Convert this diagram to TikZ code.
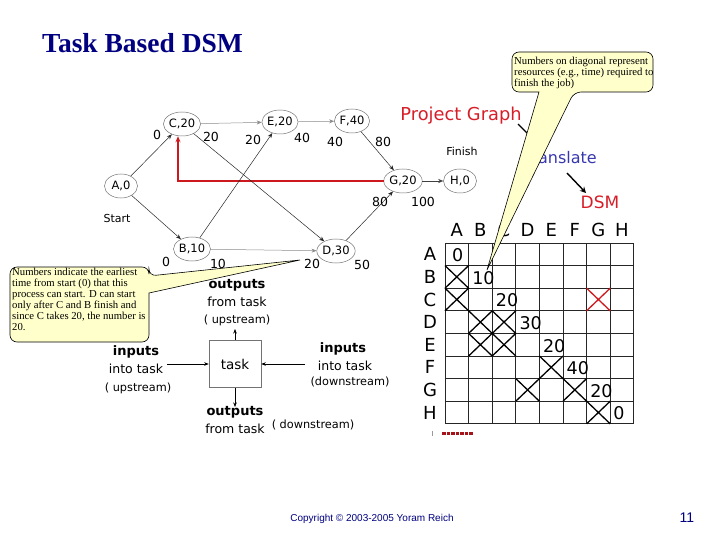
\documentclass[tikz,border=0pt]{standalone}
\usepackage{fontspec}
\setmainfont{Liberation Serif}
\newfontfamily\vfont{DejaVu Sans}
\newfontfamily\afont{Liberation Sans}
\usetikzlibrary{shapes.geometric,arrows.meta}
\definecolor{navy}{RGB}{0,0,128}
\definecolor{pgred}{RGB}{215,30,40}
\definecolor{trblue}{RGB}{55,55,175}
\definecolor{lnred}{RGB}{205,25,30}
\definecolor{calloutfill}{RGB}{255,255,204}
\begin{document}
\begin{tikzpicture}[x=1pt,y=-1pt,
  gnode/.style={ellipse, draw=black!55, line width=0.5pt, minimum width=33, minimum height=24, inner sep=0pt, font=\vfont\fontsize{11.5}{13}\selectfont},
  elbl/.style={font=\vfont\fontsize{12.5}{14}\selectfont, inner sep=0pt},
  garrow/.style={-{Stealth[length=5pt,width=4pt]}, line width=0.5pt},
  tarrow/.style={-{Stealth[length=4.5pt,width=3.5pt]}, line width=0.5pt},
  bigarrow/.style={-{Stealth[length=6pt,width=6pt]}, line width=1.4pt},
  gridline/.style={line width=0.8pt, black!85},
  xmark/.style={line width=1.3pt, black},
  dsmlbl/.style={font=\vfont\fontsize{18}{20}\selectfont, inner sep=0pt},
  dsmnum/.style={font=\vfont\fontsize{17.5}{20}\selectfont, inner sep=0pt, anchor=west},
  callout/.style={draw=black, line width=0.6pt, fill=calloutfill},
  callouttext/.style={font=\fontsize{10.7}{11}\selectfont, inner sep=0pt, anchor=north west, align=left},
  tbold/.style={font=\vfont\bfseries\fontsize{13}{15}\selectfont, inner sep=0pt},
  tnorm/.style={font=\vfont\fontsize{12.5}{15}\selectfont, inner sep=0pt},
  tsmall/.style={font=\vfont\fontsize{11.3}{13}\selectfont, inner sep=0pt}
]
\useasboundingbox (0,0) rectangle (720,540);

% Title
\node[anchor=base west, font=\bfseries\fontsize{27.5}{30}\selectfont, text=navy, inner sep=0pt] (title) at (42,53) {Task Based DSM};

% Project graph nodes
\node[gnode] (A) at (121,186) {A,0};
\node[gnode] (C) at (182,124) {C,20};
\node[gnode] (E) at (280,122) {E,20};
\node[gnode] (F) at (352,121) {F,40};
\node[gnode] (B) at (192,249) {B,10};
\node[gnode] (D) at (336,251) {D,30};
\node[gnode] (G) at (403,181) {G,20};
\node[gnode] (H) at (460,181) {H,0};

% red feedback
\coordinate (rc) at (178,180);
\draw[lnred, line width=1.6pt, -{Stealth[length=6pt,width=5pt]}] (G.west) -- (G.west -| rc) -- (rc |- C.south);

% edges
\draw[garrow, black!85] (A) -- (C);
\draw[garrow, black!85] (A) -- (B);
\draw[garrow, black!45] (C) -- (E);
\draw[garrow, black!85] (C) -- (D);
\draw[garrow, black!85] (B) -- (E);
\draw[garrow, black!45] (B) -- (D);
\draw[garrow, black!45] (E) -- (F);
\draw[garrow, black!85] (F) -- (G);
\draw[garrow, black!85] (D) -- (G);
\draw[garrow, black!75] (G) -- (H);

% edge labels
\node[elbl] (l1) at (157,135) {0};
\node[elbl] (l2) at (211,137) {20};
\node[elbl] (l3) at (253,140) {20};
\node[elbl] (l4) at (302,138) {40};
\node[elbl] (l5) at (335,142) {40};
\node[elbl] (l6) at (383,142) {80};
\node[elbl] (l7) at (380,202) {80};
\node[elbl] (l8) at (423,202) {100};
\node[elbl] (l9) at (166,262) {0};
\node[elbl] (l10) at (218,264) {10};
\node[elbl] (l11) at (312,264) {20};
\node[elbl] (l12) at (362,265) {50};
\node[font=\vfont\fontsize{11}{13}\selectfont, inner sep=0pt] (start) at (117,218) {Start};
\node[font=\vfont\fontsize{11}{13}\selectfont, inner sep=0pt] (finish) at (462,151) {Finish};

% Project graph / translate / DSM
\node[font=\vfont\fontsize{17.8}{20}\selectfont, text=pgred, inner sep=0pt] (pg) at (461,116) {Project Graph};
\node[font=\vfont\fontsize{16}{18}\selectfont, text=trblue, inner sep=0pt, anchor=east] (tr) at (597,158) {Translate};
\node[font=\vfont\fontsize{17}{18}\selectfont, text=pgred, inner sep=0pt] (dsm) at (600,202) {DSM};
\coordinate (pa1) at (518,124);
\coordinate (pa2) at (542,148);
\draw[bigarrow] (pa1) -- (pa2);
\coordinate (ta1) at (567,173);
\coordinate (ta2) at (586,193);
\draw[bigarrow] (ta1) -- (ta2);

% DSM grid
\foreach \i in {0,...,8} {
  \draw[gridline] (445,{243+22.6*\i}) -- (634,{243+22.6*\i});
  \draw[gridline] ({445+23.6*\i},243) -- ({445+23.6*\i},423.8);
}
\foreach \l [count=\k from 0] in {A,B,C,D,E,F,G,H} {
  \node[dsmlbl] (col\l) at ({456.8+23.6*\k},230) {\l};
  \node[dsmlbl] (row\l) at (430,{254.3+22.6*\k}) {\l};
}
\foreach \r/\c in {1/0,2/0,3/1,3/2,4/1,4/2,5/4,6/3,6/5,7/6} {
  \draw[xmark] ({445+23.6*\c},{243+22.6*\r}) -- ++(23.6,22.6)
               ({445+23.6*\c},{243+22.6*(\r+1)}) -- ++(23.6,-22.6);
}
\draw[xmark, lnred] ({445+23.6*6},{243+22.6*2}) -- ++(23.6,22.6)
                    ({445+23.6*6},{243+22.6*3}) -- ++(23.6,-22.6);
\foreach \o/\v [count=\k from 0] in {7/0,3.5/10,3.5/20,3.5/30,3.5/20,3.5/40,3.5/20,3/0} {
  \node[dsmnum] (n\k) at ({445+23.6*\k+\o},{255.3+22.6*\k}) {\v};
}
\coordinate (rd1) at (442,433.5);
\coordinate (rd2) at (473,433.5);
\draw[lnred!80!black, line width=3pt, dash pattern=on 3.5pt off 1pt] (rd1) -- (rd2);
\coordinate (gt1) at (432,431);
\coordinate (gt2) at (432,436);
\draw[black!40, line width=0.6pt] (gt1) -- (gt2);

% Task diagram
\node[draw=black!55, line width=0.6pt, minimum width=52, minimum height=47, inner sep=0pt, font=\vfont\fontsize{13.5}{15}\selectfont] (task) at (235,364) {task};
\coordinate (tup) at (235,329);
\coordinate (tdn) at (235,407);
\coordinate (tlf) at (167,364);
\coordinate (trt) at (305,364);
\draw[tarrow] (task.north) -- (tup);
\draw[tarrow] (task.south) -- (tdn);
\draw[tarrow] (tlf) -- (task.west);
\draw[tarrow] (trt) -- (task.east);

\node[tbold] (o1) at (237,285) {outputs};
\node[tnorm] (o2) at (237,302) {from task};
\node[tsmall] (o3) at (237,320) {( upstream)};
\node[tbold] (i1) at (136,352) {inputs};
\node[tnorm] (i2) at (136,369) {into task};
\node[tsmall] (i3) at (138,388) {( upstream)};
\node[tbold] (j1) at (343,349) {inputs};
\node[tnorm] (j2) at (345,366) {into task};
\node[tsmall] (j3) at (350,382) {(downstream)};
\node[tbold] (p1) at (235,412) {outputs};
\node[tnorm] (p2) at (235,429) {from task};
\node[tsmall] (p3) at (313,425) {( downstream)};

% Callouts
\draw[callout] (512,70) [rounded corners=7] -- (512,52) -- (653,52) -- (653,92) -- (574,92) [sharp corners] -- (487,270) -- (539,92) [rounded corners=7] -- (512,92) -- cycle;
\node[callouttext] (ct1) at (514,57) {Numbers on diagonal represent\\resources (e.g., time) required to\\finish the job)};

\draw[callout] (10,300) [rounded corners=7] -- (10,267) -- (149,267) -- (149,276) [sharp corners] -- (300,260) -- (149,293) [rounded corners=7] -- (149,342) -- (10,342) -- cycle;
\node[callouttext] (ct2) at (12,268) {Numbers indicate the earliest\\time from start (0) that this\\process can start. D can start\\only after C and B finish and\\since C takes 20, the number is\\20.};

% Footer
\node[font=\afont\fontsize{10}{11}\selectfont, text=navy, inner sep=0pt] (copy) at (372,519) {Copyright © 2003-2005 Yoram Reich};
\node[font=\afont\fontsize{14}{16}\selectfont, text=navy, inner sep=0pt] (pnum) at (687,518) {11};
\end{tikzpicture}
\end{document}
